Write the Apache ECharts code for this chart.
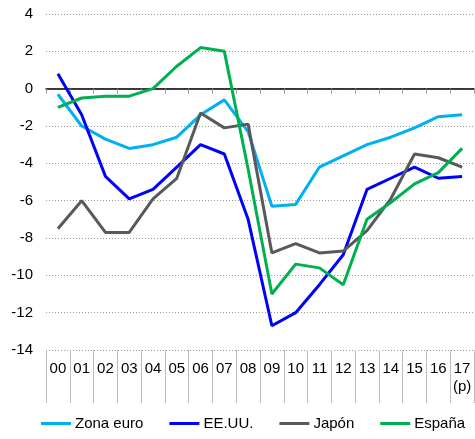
<!DOCTYPE html>
<html>
<head>
<meta charset="utf-8">
<script src="https://cdn.jsdelivr.net/npm/echarts@6/dist/echarts.min.js"></script>
<style>
  html, body { margin: 0; padding: 0; background: #fff; }
  #chart { width: 475px; height: 439px; }
</style>
</head>
<body>
<div id="chart"></div>
<script>
// años (17 = previsión)
const years = ['00', '01', '02', '03', '04', '05', '06', '07', '08', '09',
  '10', '11', '12', '13', '14', '15', '16', '17\n(p)'];

const zonaEuro = [-0.3, -2.0, -2.7, -3.2, -3.0, -2.6, -1.4, -0.6, -2.3, -6.3,
  -6.2, -4.2, -3.6, -3.0, -2.6, -2.1, -1.5, -1.4];
const eeuu = [0.8, -1.4, -4.7, -5.9, -5.4, -4.2, -3.0, -3.5, -7.0, -12.7,
  -12.0, -10.5, -8.9, -5.4, -4.8, -4.2, -4.8, -4.7];
const japon = [-7.5, -6.0, -7.7, -7.7, -5.9, -4.8, -1.3, -2.1, -1.9, -8.8,
  -8.3, -8.8, -8.7, -7.6, -5.9, -3.5, -3.7, -4.2];
const espana = [-1.0, -0.5, -0.4, -0.4, 0.0, 1.2, 2.2, 2.0, -4.3, -11.0,
  -9.4, -9.6, -10.5, -7.0, -6.1, -5.1, -4.5, -3.2];

const seriesNames = ['Zona euro', 'EE.UU.', 'Japón', 'España'];
const seriesColors = ['#00b0f0', '#0000ff', '#595959', '#00b050'];
const seriesData = [zonaEuro, eeuu, japon, espana];

const font = '"Liberation Sans", Arial, sans-serif';

const chart = echarts.init(document.getElementById('chart'));

chart.setOption({
  animation: false,
  textStyle: { fontFamily: font },
  grid: { left: 46, right: 1, top: 14, bottom: 89 },
  legend: {
    bottom: 3,
    left: 36,
    itemGap: 26,
    itemWidth: 30,
    itemHeight: 3,
    icon: 'rect',
    textStyle: { fontSize: 15, color: '#000', fontFamily: font, padding: [0, 0, 0, -1] },
    data: seriesNames
  },
  xAxis: [
    {
      // línea del cero con marcas
      type: 'category',
      data: years,
      boundaryGap: true,
      axisLine: { onZero: true, lineStyle: { color: '#000', width: 1.5 } },
      axisTick: { show: true, interval: 0, length: 5, lineStyle: { color: '#999' } },
      axisLabel: { show: false },
      splitLine: { show: false }
    },
    {
      // etiquetas abajo con separadores
      type: 'category',
      data: years,
      position: 'bottom',
      boundaryGap: true,
      axisLine: { show: false, onZero: false },
      axisTick: { show: true, interval: 0, length: 53, lineStyle: { color: '#bbb' } },
      axisLabel: {
        interval: 0, hideOverlap: false, fontSize: 15, color: '#000',
        margin: 10, lineHeight: 18, fontFamily: font
      },
      splitLine: { show: false }
    }
  ],
  yAxis: {
    type: 'value',
    min: -14,
    max: 4,
    interval: 2,
    axisLine: { show: false },
    axisTick: { show: false },
    axisLabel: { fontSize: 15, color: '#000', margin: 13, fontFamily: font },
    splitLine: { lineStyle: { color: '#999', type: [1, 2], width: 1 } }
  },
  series: seriesNames.map((name, i) => ({
    name: name,
    type: 'line',
    xAxisIndex: 0,
    data: seriesData[i],
    showSymbol: false,
    symbol: 'none',
    color: seriesColors[i],
    lineStyle: { width: 3, color: seriesColors[i] }
  }))
});
</script>
</body>
</html>
